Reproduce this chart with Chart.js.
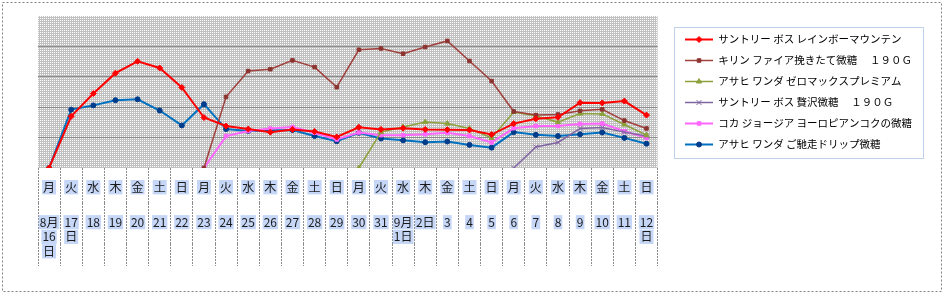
<!DOCTYPE html>
<html>
<head>
<meta charset="utf-8">
<script src="https://cdn.jsdelivr.net/npm/chart.js@4.4.1/dist/chart.umd.min.js"></script>
<style>
  body { margin: 0; background: #fff; }
  canvas { display: block; }
</style>
</head>
<body>
<canvas id="chart" width="944" height="294"></canvas>
<script>
// --- data ---
const weekdays = ['月','火','水','木','金','土','日','月','火','水','木','金','土','日',
                  '月','火','水','木','金','土','日','月','火','水','木','金','土','日'];
// date labels, one array per text line under each day
const dateLine1 = ['8月','17','18','19','20','21','22','23','24','25','26','27','28','29',
                   '30','31','9月','2日','3','4','5','6','7','8','9','10','11','12'];
const dateLine2 = ['16','日','','','','','','','','','','','','',
                   '','','1日','','','','','','','','','','','日'];
const dateLine3 = ['日','','','','','','','','','','','','','',
                   '','','','','','','','','','','','','',''];

const seriesNames = [
  'サントリー ボス レインボーマウンテン',
  'キリン ファイア挽きたて微糖　 １９０Ｇ',
  'アサヒ ワンダ ゼロマックスプレミアム',
  'サントリー ボス 贅沢微糖　 １９０Ｇ',
  'コカ ジョージア ヨーロピアンコクの微糖',
  'アサヒ ワンダ ご馳走ドリップ微糖'
];

const bossRainbow = [0, 1.70, 2.45, 3.12, 3.51, 3.29, 2.65, 1.66, 1.38, 1.28, 1.18, 1.27, 1.20, 1.02,
                     1.34, 1.27, 1.31, 1.27, 1.26, 1.25, 1.10, 1.46, 1.62, 1.67, 2.15, 2.14, 2.20, 1.74];
const kirinFire = [null, null, null, null, null, null, null, 0, 2.34, 3.19, 3.25, 3.54, 3.32, 2.66,
                   3.89, 3.93, 3.76, 3.98, 4.18, 3.52, 2.86, 1.86, 1.74, 1.76, 1.88, 1.93, 1.56, 1.30];
const wondaZeroMax = [null, null, null, null, null, null, null, null, null, null, null, null, null, null,
                      0, 1.18, 1.35, 1.51, 1.46, 1.30, 0.99, 1.84, 1.71, 1.51, 1.79, 1.78, 1.43, 1.08];
const bossZeitaku = [null, null, null, null, null, null, null, null, null, null, null, null, null, null,
                     null, null, null, null, null, null, null, 0, 0.69, 0.84, 1.30, 1.33, 1.18, 1.05];
const georgiaEuro = [null, null, null, null, null, null, null, 0, 1.05, 1.22, 1.30, 1.35, 1.16, 0.94,
                     1.17, 1.08, 1.08, 1.11, 1.16, 1.05, 0.84, 1.31, 1.38, 1.38, 1.45, 1.46, 1.21, 0.99];
const wondaDrip = [0, 1.92, 2.06, 2.23, 2.26, 1.89, 1.40, 2.10, 1.28, 1.22, 1.23, 1.25, 1.05, 0.88,
                   1.16, 0.97, 0.91, 0.85, 0.87, 0.76, 0.67, 1.18, 1.09, 1.05, 1.11, 1.17, 0.99, 0.80];

const FONT = '"Noto Sans CJK JP", "Noto Sans", sans-serif';
const HILITE = 'rgba(150,180,240,0.55)';

// --- look of each series ---
const styles = [
  { line: '#ff0000', fill: '#ff0000', shape: 'rectRot', r: 3, w: 2 },
  { line: '#a0403c', fill: '#8c3430', shape: 'rect', r: 2.5, w: 1.5 },
  { line: '#8ca03c', fill: '#8ca03c', shape: 'triangle', r: 3, w: 1.5 },
  { line: '#8064a2', fill: '#8064a2', shape: 'crossRot', r: 3.5, w: 1.5 },
  { line: '#ff66ff', fill: '#ff66ff', shape: 'rect', r: 2.5, w: 2 },
  { line: '#0070c0', fill: '#003c8c', shape: 'circle', r: 2.5, w: 2 }
];
const values = [bossRainbow, kirinFire, wondaZeroMax, bossZeitaku, georgiaEuro, wondaDrip];

// legend swatch: short line with the marker in the middle
function swatch(s) {
  const c = document.createElement('canvas');
  c.width = 28; c.height = 9;
  const g = c.getContext('2d');
  g.strokeStyle = s.line; g.lineWidth = s.w;
  g.beginPath(); g.moveTo(0, 4.5); g.lineTo(28, 4.5); g.stroke();
  g.fillStyle = s.fill; g.strokeStyle = s.fill; g.lineWidth = 1;
  Chart.helpers.drawPoint(g, { pointStyle: s.shape, radius: s.r, borderWidth: 1 }, 14, 4.5);
  return c;
}

// grey stipple used by the plot area
const pat = document.createElement('canvas');
pat.width = 2; pat.height = 2;
const pg = pat.getContext('2d');
pg.fillStyle = '#c0c0c0'; pg.fillRect(0, 0, 2, 2);
pg.fillStyle = '#ffffff'; pg.fillRect(0, 0, 1, 1);

const plotBg = {
  id: 'plotBg',
  beforeDraw(chart) {
    const { ctx, chartArea: a } = chart;
    ctx.save();
    ctx.fillStyle = ctx.createPattern(pat, 'repeat');
    ctx.fillRect(a.left, a.top, a.right - a.left, a.bottom - a.top);
    // outer dotted frame
    ctx.strokeStyle = '#808080';
    ctx.lineWidth = 1;
    ctx.setLineDash([2, 2]);
    ctx.strokeRect(2.5, 2.5, chart.width - 5, chart.height - 5);
    ctx.restore();
  },
  afterDraw(chart) {
    const boxes = chart.legend.legendHitBoxes;
    if (!boxes || !boxes.length) return;
    let l = Infinity, t = Infinity, r = -Infinity, b = -Infinity;
    boxes.forEach(h => {
      l = Math.min(l, h.left); t = Math.min(t, h.top);
      r = Math.max(r, h.left + h.width); b = Math.max(b, h.top + h.height);
    });
    const ctx = chart.ctx;
    ctx.save();
    ctx.strokeStyle = '#7fa3d6';
    ctx.lineWidth = 1;
    ctx.setLineDash([1, 1]);
    ctx.strokeRect(Math.round(l - 11) + 0.5, Math.round(t - 7) + 0.5, Math.round(r - l + 22), Math.round(b - t + 15));
    ctx.restore();
  }
};

const datasets = values.map((v, i) => ({
  label: seriesNames[i],
  data: v,
  borderColor: styles[i].line,
  backgroundColor: styles[i].fill,
  borderWidth: styles[i].w,
  pointStyle: styles[i].shape,
  pointRadius: styles[i].r,
  pointBorderWidth: 1,
  pointBorderColor: styles[i].fill,
  pointBackgroundColor: styles[i].fill,
  tension: 0,
  xAxisID: 'x'
}));

// one bottom axis per text row; the tick marks of all rows form the column dividers
function rowAxis(labels, weight, h, pad) {
  return {
    type: 'category',
    labels: labels,
    position: 'bottom',
    weight: weight,
    offset: true,
    border: { display: false },
    grid: {
      offset: true, drawOnChartArea: false, drawTicks: true, tickLength: h,
      tickColor: '#8c8c8c', tickBorderDash: [2, 1], tickWidth: 1
    },
    ticks: {
      autoSkip: false, maxRotation: 0, padding: pad, color: '#1a1a1a',
      font: { family: FONT, size: 12 },
      showLabelBackdrop: c => !!c.tick.label,
      backdropColor: HILITE, backdropPadding: { x: 1, y: 0 }
    },
    afterFit: s => { s.height = h; }
  };
}

const xRow = rowAxis(weekdays, 0, 35, -23);
delete xRow.labels;

new Chart(document.getElementById('chart'), {
  type: 'line',
  data: { labels: weekdays, datasets },
  options: {
    responsive: false,
    animation: false,
    layout: { padding: { left: 38, top: 16, right: 22, bottom: 28 } },
    scales: {
      x: xRow,
      x2: rowAxis(dateLine1, 1, 26.5, -14.4),
      x3: rowAxis(dateLine2, 2, 14.5, -14.4),
      x4: rowAxis(dateLine3, 3, 22, -21.9),
      y: {
        min: 0, max: 5,
        border: { display: false },
        grid: {
          drawTicks: false,
          color: c => (c.tick.value > 0 && c.tick.value < 5) ? '#8c8c8c' : 'rgba(0,0,0,0)'
        },
        ticks: { display: false, stepSize: 1 },
        afterFit: s => { s.width = 0; }
      },
      yR: {
        position: 'right',
        min: 0, max: 5,
        border: { display: false },
        grid: { display: false },
        ticks: { display: false },
        afterFit: s => { s.width = 17; }
      }
    },
    plugins: {
      tooltip: { enabled: false },
      legend: {
        position: 'right',
        fullSize: false,
        maxWidth: 320,
        labels: {
          usePointStyle: true,
          pointStyleWidth: 28,
          padding: 10.5,
          color: '#000',
          font: { family: FONT, size: 10.5 },
          generateLabels: chart => Chart.defaults.plugins.legend.labels.generateLabels(chart)
            .map((it, i) => Object.assign(it, { pointStyle: swatch(styles[i]) }))
        }
      }
    }
  },
  plugins: [plotBg]
});
</script>
</body>
</html>
